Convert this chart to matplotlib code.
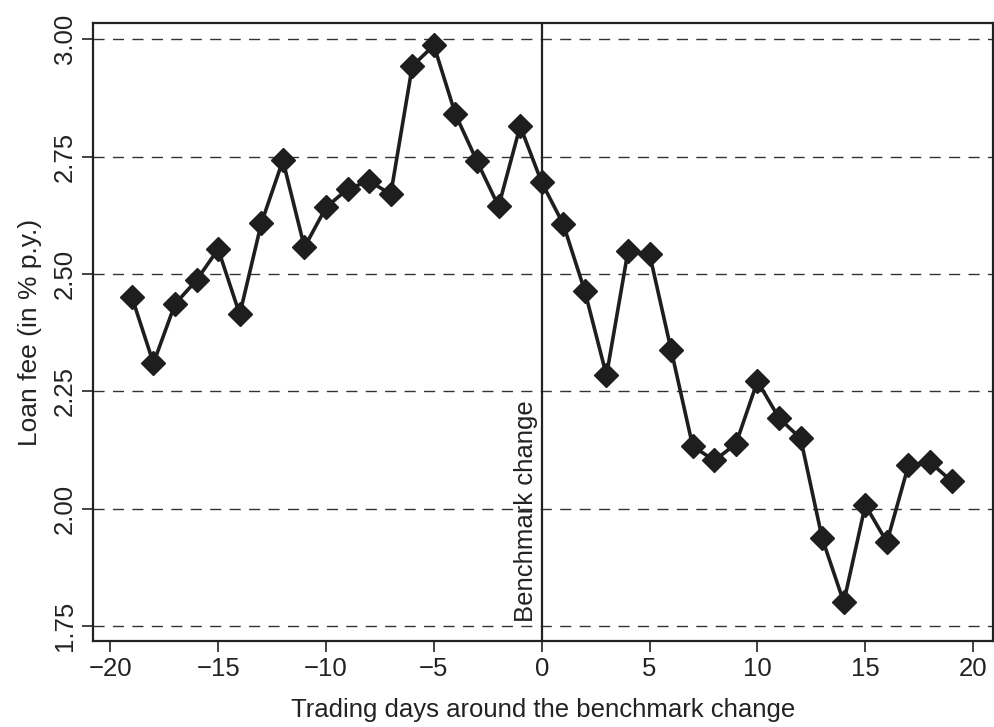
import matplotlib
matplotlib.use("Agg")
from matplotlib import pyplot as plt

plt.rcParams['font.family'] = ['Liberation Sans', 'DejaVu Sans']

# trading days and loan fee values
days = list(range(-19, 20))
fee = [2.451, 2.310, 2.436, 2.487, 2.553, 2.414, 2.608, 2.742, 2.557, 2.642,
       2.681, 2.698, 2.670, 2.943, 2.987, 2.840, 2.740, 2.644, 2.815,
       2.695,
       2.606, 2.463, 2.284, 2.549, 2.542, 2.338, 2.133, 2.103, 2.138, 2.272,
       2.193, 2.150, 1.937, 1.801, 2.008, 1.929, 2.093, 2.099, 2.059]
yticks = [1.75, 2.00, 2.25, 2.50, 2.75, 3.00]
xticks = [-20, -15, -10, -5, 0, 5, 10, 15, 20]

fig = plt.figure(figsize=(9.94, 7.27), dpi=100)
ax = fig.add_axes([0.0936, 0.118, 0.905, 0.850])

for yv in yticks:
    ax.axhline(yv, color='#333333', lw=1.0, ls=(0, (8, 6)), zorder=1)
ax.axvline(0, color='#222222', lw=1.6, zorder=2)

ax.plot(days, fee, color='#1e1e1e', lw=2.6, marker='D', markersize=12,
        markerfacecolor='#1e1e1e', markeredgecolor='#1e1e1e', zorder=3)

ax.annotate('Benchmark change', xy=(0, 1.75), xytext=(-3, 3),
            textcoords='offset points', rotation=90, ha='right', va='bottom',
            fontsize=18.5, color='#222222')

ax.set_xlim(-20.8, 20.9)
ax.set_ylim(1.718, 3.034)
ax.set_xticks(xticks)
ax.set_xticklabels([str(v).replace('-', '\u2212') for v in xticks])
ax.set_yticks(yticks)
ax.set_yticklabels(['%.2f' % v for v in yticks], rotation=90, va='center')
ax.tick_params(labelsize=18.5, length=8, width=1.2, color='#222222',
               labelcolor='#222222')
for s in ax.spines.values():
    s.set_linewidth(1.6)
    s.set_color('#222222')

ax.set_xlabel('Trading days around the benchmark change', fontsize=18.5,
              color='#222222', labelpad=12)
ax.set_ylabel('Loan fee (in % p.y.)', fontsize=19, color='#222222',
              labelpad=8)

fig.savefig('out.png', dpi=100)
